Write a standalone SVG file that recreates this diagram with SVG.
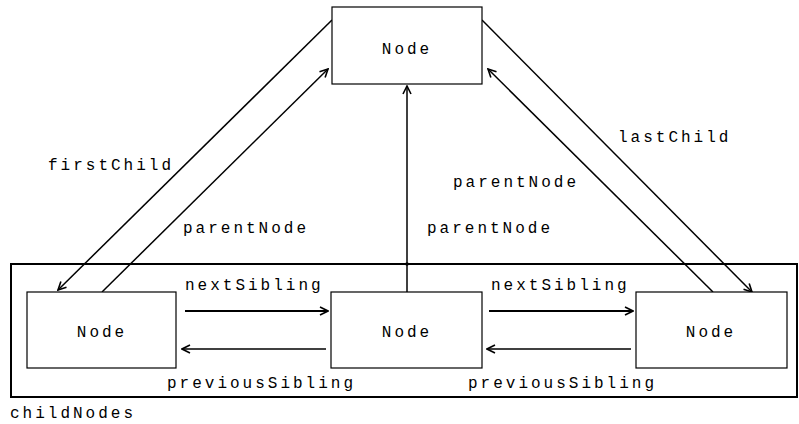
<svg xmlns="http://www.w3.org/2000/svg" width="799" height="424" viewBox="0 0 799 424">
<style>
.box{fill:#fff;stroke:#000;stroke-width:1.2}
.frame{fill:none;stroke:#000;stroke-width:2}
.t{font-family:"Liberation Mono","Courier New",monospace;font-size:16px;letter-spacing:3px;fill:#000}
.c{stroke:#000;stroke-width:1.5;fill:none}
.thick{stroke-width:2.2}
</style>
<defs>
<marker id="ah" viewBox="0 0 10 10" refX="9" refY="5" markerWidth="10" markerHeight="10" markerUnits="userSpaceOnUse" orient="auto">
<path d="M1,1 L9,5 L1,9" fill="none" stroke="#000" stroke-width="1.6"/>
</marker>
</defs>
<g id="childNodes">
<rect class="frame" x="11" y="264" width="786" height="133"/>
<text class="t" x="10" y="418">childNodes</text>
</g>
<g id="connectors">
<line class="c" x1="332" y1="20" x2="58" y2="290" marker-end="url(#ah)"/>
<line class="c" x1="102" y1="292" x2="328" y2="69" marker-end="url(#ah)"/>
<line class="c" x1="482" y1="20" x2="752" y2="292" marker-end="url(#ah)"/>
<line class="c" x1="713" y1="292" x2="488" y2="69" marker-end="url(#ah)"/>
<line class="c" x1="407" y1="292" x2="407" y2="86" marker-end="url(#ah)"/>
<line class="c thick" x1="185" y1="311" x2="328" y2="311" marker-end="url(#ah)"/>
<line class="c" x1="326" y1="349" x2="182" y2="349" marker-end="url(#ah)"/>
<line class="c thick" x1="489" y1="311" x2="633" y2="311" marker-end="url(#ah)"/>
<line class="c" x1="631" y1="349" x2="487" y2="349" marker-end="url(#ah)"/>
<circle cx="407" cy="264" r="1.8" fill="#000"/>
<text class="t" x="48" y="170">firstChild</text>
<text class="t" x="183" y="233">parentNode</text>
<text class="t" x="618" y="142">lastChild</text>
<text class="t" x="453" y="187">parentNode</text>
<text class="t" x="427" y="233">parentNode</text>
<text class="t" x="185" y="290">nextSibling</text>
<text class="t" x="491" y="290">nextSibling</text>
<text class="t" x="167" y="388">previousSibling</text>
<text class="t" x="468" y="388">previousSibling</text>
</g>
<g id="node-top">
<rect class="box" x="332" y="7" width="150" height="77"/>
<text class="t" x="407" y="54" text-anchor="middle">Node</text>
</g>
<g id="node-left">
<rect class="box" x="27" y="292" width="149" height="76"/>
<text class="t" x="102" y="337" text-anchor="middle">Node</text>
</g>
<g id="node-middle">
<rect class="box" x="331" y="292" width="151" height="76"/>
<text class="t" x="407" y="337" text-anchor="middle">Node</text>
</g>
<g id="node-right">
<rect class="box" x="636" y="292" width="151" height="76"/>
<text class="t" x="711" y="337" text-anchor="middle">Node</text>
</g>
</svg>
